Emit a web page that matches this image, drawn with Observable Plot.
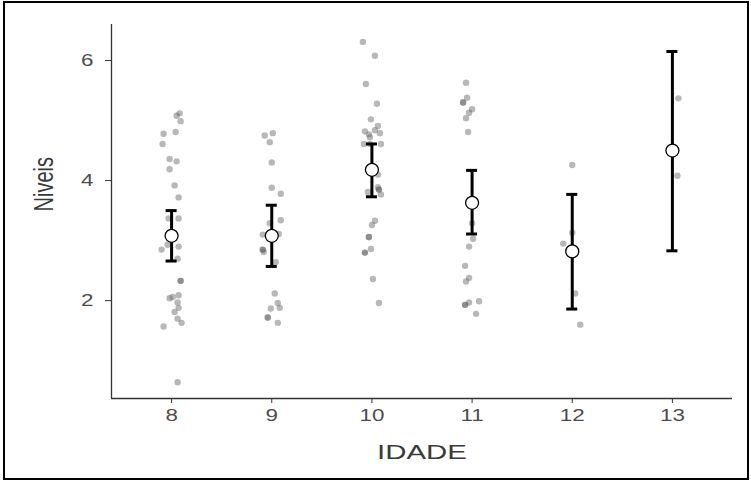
<!DOCTYPE html>
<html><head>
<script src="https://cdn.jsdelivr.net/npm/d3@7"></script>
<script src="https://cdn.jsdelivr.net/npm/@observablehq/plot@0.6"></script>
<style>
body{margin:0;background:#fff;}
#wrap{position:relative;width:751px;height:481px;}
#frame{position:absolute;left:3px;top:1px;width:742px;height:475px;border:2px solid #000;pointer-events:none;}
</style>
</head><body>
<div id="wrap"><div id="chart"></div><div id="frame"></div></div>
<script>
// raw observations: jittered age position and level
const ageJ = [
 8.08,8.05,8.09,7.92,8.04,7.91,7.98,8.05,7.98,8.03,8.07,7.97,8.07,7.96,7.90,8.07,8.06,8.09,8.09,7.98,8.01,8.07,8.06,8.07,8.03,8.06,8.10,7.92,8.06,
 8.93,9.01,8.98,9.00,9.00,9.09,8.98,9.09,8.91,9.07,8.91,8.91,8.92,9.04,9.03,9.06,9.08,8.99,8.96,8.96,9.06,
 9.91,10.03,9.94,10.05,9.99,10.06,9.93,10.03,10.08,9.97,9.98,9.92,9.98,10.09,10.06,10.06,10.07,10.07,9.96,10.09,10.03,10.00,9.97,9.97,9.99,9.93,9.93,10.01,10.07,
 10.94,10.95,10.91,10.91,11.00,10.97,10.94,10.96,11.00,11.01,10.97,10.93,10.97,10.94,11.07,10.93,10.93,10.97,11.04,
 12.00,12.00,11.91,12.03,12.08,
 13.06,13.05
];
const level = [
 5.12,5.08,4.99,4.78,4.81,4.61,4.36,4.32,4.19,3.92,3.72,3.37,3.37,2.93,2.85,2.90,2.70,2.33,2.33,2.04,2.06,2.09,1.97,1.88,1.81,1.70,1.63,1.57,0.64,
 4.75,4.79,4.64,4.30,3.88,3.78,3.29,3.34,3.10,3.11,2.85,2.85,2.81,2.64,2.12,1.96,1.88,1.87,1.72,1.72,1.63,
 6.31,6.08,5.61,5.28,5.02,4.91,4.82,4.84,4.79,4.77,4.72,4.61,4.61,4.61,4.10,3.89,3.85,3.85,3.81,3.77,3.33,3.26,3.06,3.06,2.86,2.80,2.80,2.36,1.96,
 5.63,5.38,5.30,5.30,5.19,5.13,5.04,4.81,3.29,3.03,2.90,2.58,2.38,2.32,1.99,1.93,1.93,1.97,1.78,
 4.26,3.13,2.95,2.12,1.60,
 5.37,4.08
];
// summary per age
const ages = [8, 9, 10, 11, 12, 13];
const means = [3.08, 3.08, 4.18, 3.63, 2.82, 4.50];
const lower = [2.66, 2.57, 3.73, 3.11, 1.86, 2.83];
const upper = [3.50, 3.59, 4.61, 4.17, 3.77, 6.15];
const yTicks = [2, 4, 6];

const pts = ageJ.map((a, i) => ({age: a, level: level[i]}));
const summ = ages.map((a, i) => ({age: a, mean: means[i], lo: lower[i], hi: upper[i]}));
const capHalf = 0.055;

const chart = Plot.plot({
  width: 751, height: 481,
  marginLeft: 111, marginRight: 19, marginTop: 24, marginBottom: 83,
  style: {fontFamily: "Liberation Sans, Arial, sans-serif", background: "transparent"},
  x: {type: "linear", domain: [7.4, 13.6], label: null},
  y: {type: "linear", domain: [0.37, 6.6], label: null},
  marks: [
    Plot.dot(pts, {x: "age", y: "level", r: 3.2, fill: "#555", fillOpacity: 0.42, stroke: "none"}),
    Plot.ruleX(summ, {x: "age", y1: "lo", y2: "hi", stroke: "#000", strokeWidth: 3}),
    Plot.ruleY(summ, {y: "lo", x1: d => d.age - capHalf, x2: d => d.age + capHalf, stroke: "#000", strokeWidth: 3}),
    Plot.ruleY(summ, {y: "hi", x1: d => d.age - capHalf, x2: d => d.age + capHalf, stroke: "#000", strokeWidth: 3}),
    Plot.dot(summ, {x: "age", y: "mean", r: 6.5, fill: "#fff", stroke: "#000", strokeWidth: 1.3}),
    Plot.axisX({ticks: ages, tickFormat: d3.format("d"), tickSize: 5, stroke: "#333", fill: "#4d4d4d", fontSize: 16, tickPadding: 6, label: null}),
    Plot.axisY({ticks: yTicks, tickFormat: d3.format("d"), tickSize: 6, stroke: "#333", fill: "#4d4d4d", fontSize: 16, tickPadding: 12, label: null}),
    Plot.ruleY([0.37], {stroke: "#333", strokeWidth: 1.3}),
    Plot.ruleX([7.4], {stroke: "#333", strokeWidth: 1.3}),
    Plot.text(["IDADE"], {frameAnchor: "bottom", dy: 60, fontSize: 21, fill: "#3a3a3a"}),
    Plot.text(["Niveis"], {frameAnchor: "left", dx: -67, rotate: -90, fontSize: 20, fill: "#3a3a3a"})
  ]
});
// the reference rendering is horizontally stretched: stretch glyphs the same way
d3.select(chart).selectAll("text").each(function() {
  const t = d3.select(this);
  let tr = t.attr("transform") || "";
  const x = t.attr("x");
  if (x != null && isFinite(+x)) {
    tr = `translate(${+x},0) ` + tr;
    t.attr("x", null);
  }
  const y = t.attr("y");
  if (y != null && isFinite(+y)) {
    tr = `translate(0,${+y}) ` + tr;
    t.attr("y", null);
  }
  t.attr("transform", tr + (tr.includes("rotate") ? " scale(1,1.4)" : " scale(1.4,1)"));
});
document.getElementById("chart").appendChild(chart);
</script>
</body></html>
